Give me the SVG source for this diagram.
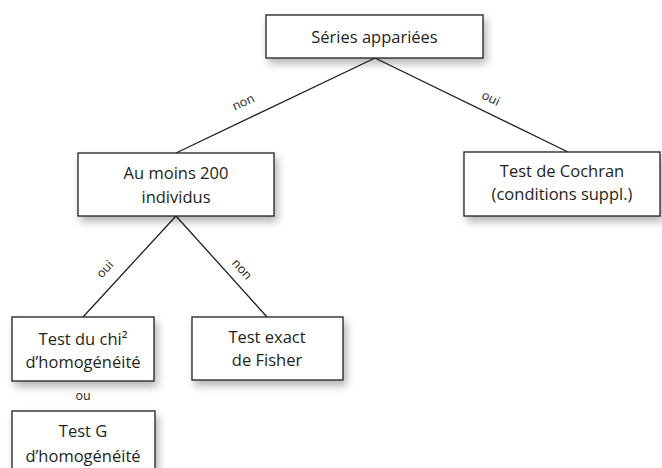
<svg xmlns="http://www.w3.org/2000/svg" width="662" height="468" viewBox="0 0 662 468">
<defs>
<filter id="sh" x="-20%" y="-20%" width="150%" height="160%">
<feGaussianBlur in="SourceAlpha" stdDeviation="4"/>
<feOffset dx="3" dy="5" result="b"/>
<feComponentTransfer><feFuncA type="linear" slope="0.3"/></feComponentTransfer>
<feMerge><feMergeNode/><feMergeNode in="SourceGraphic"/></feMerge>
</filter>
<style>
.box{fill:#fff;stroke:#231f20;stroke-width:1.3;filter:url(#sh)}
.t{font-family:"Open Sans","Noto Sans","Liberation Sans",sans-serif;font-size:16.5px;fill:#231f20;text-anchor:middle}
.l{font-family:"Open Sans","Noto Sans","Liberation Sans",sans-serif;font-size:12.5px;fill:#231f20;text-anchor:middle}
.c{stroke:#231f20;stroke-width:1.3;fill:none}
</style>
</defs>
<rect width="662" height="468" fill="#fff"/>
<g id="connectors">
<line class="c" x1="375" y1="58" x2="176" y2="153"/>
<line class="c" x1="375" y1="58" x2="568" y2="152"/>
<line class="c" x1="176" y1="216" x2="83" y2="317"/>
<line class="c" x1="176" y1="216" x2="267" y2="317"/>
<text class="l" transform="translate(245,106) rotate(-25)">non</text>
<text class="l" transform="translate(489,102) rotate(26)">oui</text>
<text class="l" transform="translate(108,272) rotate(-47)">oui</text>
<text class="l" transform="translate(239,272) rotate(48)">non</text>
<text class="l" x="83" y="400">ou</text>
</g>
<g id="series">
<rect class="box" x="266" y="15" width="217" height="43"/>
<text class="t" x="374.5" y="43">Séries appariées</text>
</g>
<g id="aumoins">
<rect class="box" x="78" y="153" width="196" height="63"/>
<text class="t" x="176" y="179">Au moins 200</text>
<text class="t" x="176" y="203">individus</text>
</g>
<g id="cochran">
<rect class="box" x="464" y="152" width="196" height="64"/>
<text class="t" x="562" y="177">Test de Cochran</text>
<text class="t" x="562" y="200">(conditions suppl.)</text>
</g>
<g id="chi">
<rect class="box" x="12" y="317" width="142" height="64"/>
<text class="t" x="83" y="345">Test du chi²</text>
<text class="t" x="83" y="368">d’homogénéité</text>
</g>
<g id="fisher">
<rect class="box" x="192" y="317" width="151" height="63"/>
<text class="t" x="267" y="343">Test exact</text>
<text class="t" x="267" y="366">de Fisher</text>
</g>
<g id="testg">
<rect class="box" x="12" y="411" width="143" height="70"/>
<text class="t" x="83" y="437">Test G</text>
<text class="t" x="83" y="462">d’homogénéité</text>
</g>
</svg>
